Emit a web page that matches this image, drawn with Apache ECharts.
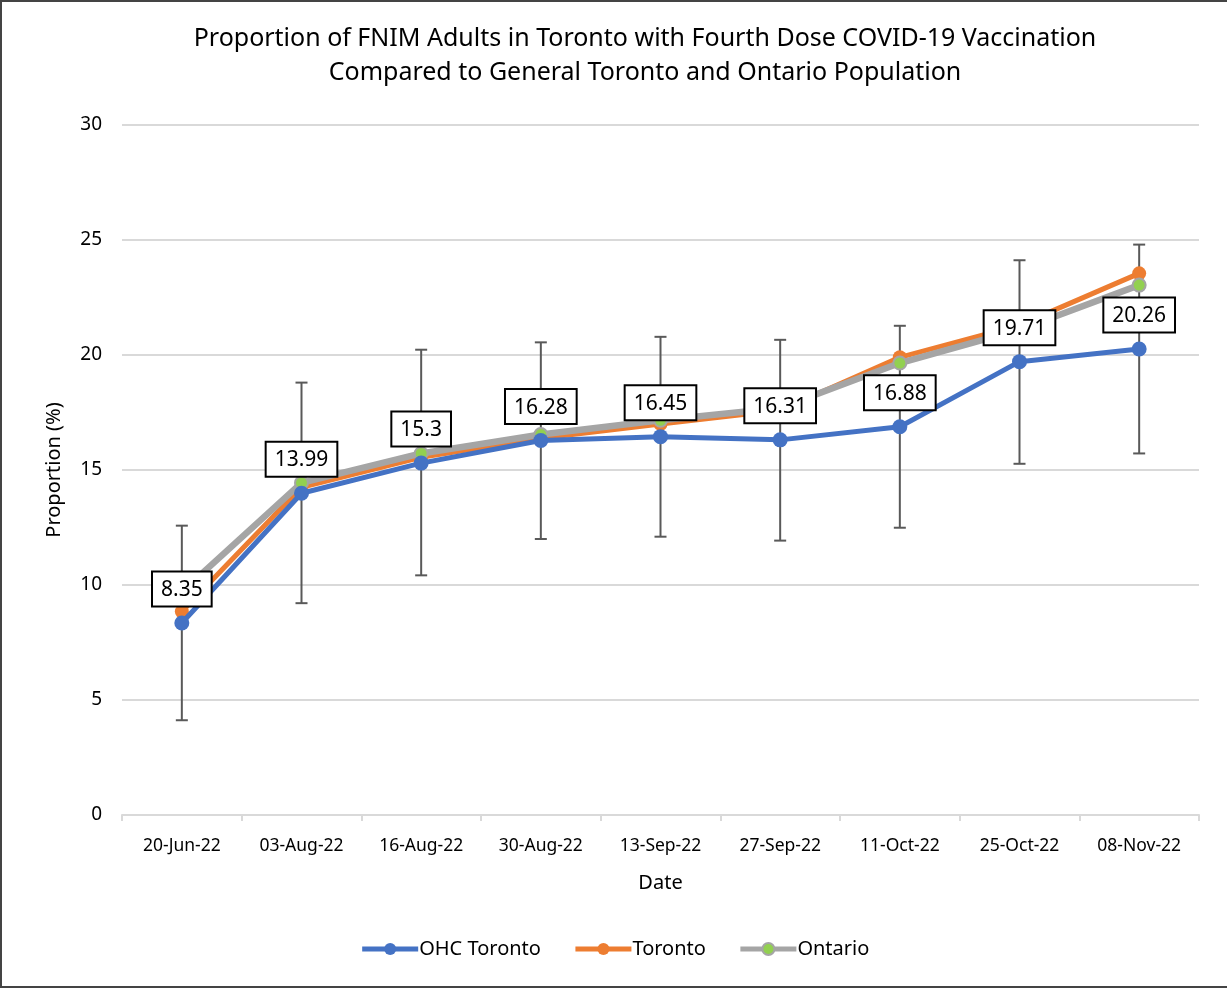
<!DOCTYPE html>
<html>
<head>
<meta charset="utf-8">
<script src="https://cdn.jsdelivr.net/npm/echarts@6/dist/echarts.min.js"></script>
<style>
  html, body { margin: 0; padding: 0; background: #fff; }
  #chart {
    width: 1227px; height: 988px; box-sizing: border-box;
    border-left: 2px solid #444; border-top: 2px solid #444; border-bottom: 2px solid #444;
  }
</style>
</head>
<body>
<div id="chart"></div>
<script>
const dates = ["20-Jun-22", "03-Aug-22", "16-Aug-22", "30-Aug-22", "13-Sep-22",
  "27-Sep-22", "11-Oct-22", "25-Oct-22", "08-Nov-22"];
const ohcToronto = [8.35, 13.99, 15.3, 16.28, 16.45, 16.31, 16.88, 19.71, 20.26];
const ohcLower = [4.12, 9.21, 10.42, 12.0, 12.1, 11.93, 12.49, 15.27, 15.72];
const ohcUpper = [12.58, 18.8, 20.23, 20.55, 20.79, 20.66, 21.27, 24.12, 24.8];
const toronto = [8.85, 14.25, 15.55, 16.38, 17.0, 17.6, 19.9, 21.3, 23.55];
const ontario = [9.7, 14.44, 15.72, 16.54, 17.16, 17.7, 19.65, 21.1, 23.04];

const font = "'Noto Sans', 'Open Sans', sans-serif";
const txt = "#000";

let myChart = echarts.init(document.getElementById("chart"));

// error bar rows: [category index, low, high]
let errData = dates.map((d, i) => [i, ohcLower[i], ohcUpper[i]]);

myChart.setOption({
  animation: false,
  textStyle: { fontFamily: font },
  title: {
    text: "Proportion of FNIM Adults in Toronto with Fourth Dose COVID-19 Vaccination\nCompared to General Toronto and Ontario Population",
    left: 638,
    top: 15,
    textAlign: "center",
    textStyle: {
      fontFamily: font,
      fontWeight: "normal",
      fontSize: 25,
      lineHeight: 34,
      color: txt,
    },
  },
  grid: {
    left: 120,
    right: 28,
    top: 123,
    bottom: 171,
  },
  legend: {
    bottom: 22,
    left: "center",
    itemWidth: 56,
    itemHeight: 15,
    itemGap: 32,
    lineStyle: { width: 5 },
    data: ["OHC Toronto", "Toronto", "Ontario"],
    textStyle: { color: txt, fontSize: 20, fontFamily: font, padding: [0, 0, 0, -4] },
  },
  xAxis: {
    type: "category",
    data: dates,
    name: "Date",
    nameLocation: "middle",
    nameGap: 58,
    nameTextStyle: { color: txt, fontSize: 20, fontFamily: font },
    axisLine: { lineStyle: { color: "#d9d9d9", width: 2 } },
    axisTick: { show: true, length: 6, lineStyle: { color: "#d9d9d9", width: 2 } },
    axisLabel: { color: txt, fontSize: 17.5, margin: 22, fontFamily: font },
    splitLine: { show: false },
  },
  yAxis: {
    type: "value",
    min: 0,
    max: 30,
    interval: 5,
    name: "Proportion (%)",
    nameLocation: "middle",
    nameGap: 58,
    nameTextStyle: { color: txt, fontSize: 20, fontFamily: font },
    axisLine: { show: false },
    axisTick: { show: false },
    axisLabel: { color: txt, fontSize: 19, margin: 20, fontFamily: font },
    splitLine: { lineStyle: { color: "#d9d9d9", width: 2 } },
  },
  series: [
    {
      name: "err",
      type: "custom",
      z: 1,
      silent: true,
      renderItem: function (params, api) {
        let x = api.coord([api.value(0), api.value(1)]);
        let y = api.coord([api.value(0), api.value(2)]);
        let cap = 6;
        let style = { stroke: "#595959", lineWidth: 2 };
        return {
          type: "group",
          children: [
            { type: "line", shape: { x1: x[0], y1: x[1], x2: y[0], y2: y[1] }, style: style },
            { type: "line", shape: { x1: x[0] - cap, y1: x[1], x2: x[0] + cap, y2: x[1] }, style: style },
            { type: "line", shape: { x1: y[0] - cap, y1: y[1], x2: y[0] + cap, y2: y[1] }, style: style },
          ],
        };
      },
      data: errData,
    },
    {
      name: "Toronto",
      type: "line",
      z: 2,
      symbol: "circle",
      symbolSize: 14,
      itemStyle: { color: "#ed7d31" },
      lineStyle: { color: "#ed7d31", width: 5 },
      data: toronto,
    },
    {
      name: "Ontario",
      type: "line",
      z: 3,
      symbol: "circle",
      symbolSize: 13,
      itemStyle: { color: "#92d050", borderColor: "#a5a5a5", borderWidth: 2 },
      lineStyle: { color: "#a5a5a5", width: 6.5 },
      data: ontario,
    },
    {
      name: "OHC Toronto",
      type: "line",
      z: 4,
      symbol: "circle",
      symbolSize: 15,
      itemStyle: { color: "#4472c4" },
      lineStyle: { color: "#4472c4", width: 5 },
      label: {
        show: true,
        position: "top",
        distance: 10,
        color: txt,
        fontSize: 21,
        fontFamily: font,
        backgroundColor: "#fff",
        borderColor: "#000",
        borderWidth: 2,
        padding: [7, 8, 5, 8],
      },
      data: ohcToronto,
    },
  ],
});
</script>
</body>
</html>
